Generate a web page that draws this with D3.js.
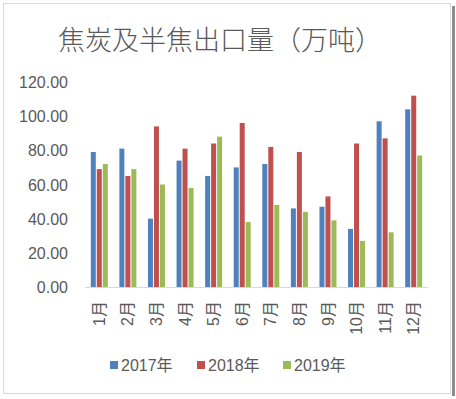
<!DOCTYPE html>
<html>
<head>
    <meta charset="utf-8">
    <script src="https://cdn.jsdelivr.net/npm/d3@7/dist/d3.min.js"></script>
    <style>
        body { margin: 0; background: #fff; }
        svg text { fill: #595959; }
        .tick text { font-family: "Liberation Sans", "Noto Sans CJK SC", sans-serif; font-size: 16px; }
    </style>
</head>
<body>
<svg id="chart" width="456" height="399"></svg>
<script>
// monthly export volumes
var months = ['1月', '2月', '3月', '4月', '5月', '6月', '7月', '8月', '9月', '10月', '11月', '12月'];
var years = ['2017年', '2018年', '2019年'];
var v2017 = [79, 81, 40, 74, 65, 70, 72, 46, 47, 34, 97, 104];
var v2018 = [69, 65, 94, 81, 84, 96, 82, 79, 53, 84, 87, 112];
var v2019 = [72, 69, 60, 58, 88, 38, 48, 44, 39, 27, 32, 77];
var yTicks = [0, 20, 40, 60, 80, 100, 120];

var colors = ['#4f81bd', '#c0504d', '#9bbb59'];
var series = [v2017, v2018, v2019];

var svg = d3.select('#chart');

// frame
svg.append('rect')
    .attr('x', 3.5).attr('y', 3.5)
    .attr('width', 447).attr('height', 390)
    .attr('fill', '#fff')
    .attr('stroke', '#d9d9d9');
svg.append('rect')
    .attr('x', 452).attr('y', 6)
    .attr('width', 3).attr('height', 390)
    .attr('fill', '#8c8c8c');

svg.append('text')
    .attr('x', 220).attr('y', 50)
    .attr('text-anchor', 'middle')
    .style('font-family', '"Noto Sans CJK SC", sans-serif')
    .style('font-size', '27px')
    .style('font-weight', 300)
    .text('焦炭及半焦出口量（万吨）');

var x = d3.scaleBand().domain(months).range([85, 428]);
var y = d3.scaleLinear().domain([0, 120]).range([287, 82]);

var yAxis = svg.append('g')
    .attr('transform', 'translate(68,0)')
    .call(d3.axisLeft(y).tickValues(yTicks).tickFormat(d3.format('.2f')).tickSize(0).tickPadding(0));
yAxis.select('.domain').remove();
yAxis.selectAll('text').attr('dy', '0.35em');

var groups = svg.append('g');
series.forEach(function (vals, si) {
    groups.selectAll('.bar' + si)
        .data(vals)
        .enter()
        .append('rect')
        .attr('x', function (d, i) { return x(months[i]) + x.bandwidth() / 2 - 8.5 + si * 6; })
        .attr('y', function (d) { return y(d); })
        .attr('width', 5)
        .attr('height', function (d) { return y(0) - y(d); })
        .attr('fill', colors[si]);
});

svg.append('line')
    .attr('x1', 85).attr('x2', 428)
    .attr('y1', y(0) + 0.5).attr('y2', y(0) + 0.5)
    .attr('stroke', '#d9d9d9');

var xAxis = svg.append('g')
    .attr('transform', 'translate(0,' + y(0) + ')')
    .call(d3.axisBottom(x).tickSize(0).tickPadding(0));
xAxis.select('.domain').remove();
xAxis.selectAll('text')
    .attr('transform', 'rotate(-90)')
    .attr('x', -14).attr('y', 0)
    .attr('dy', '0.35em')
    .attr('text-anchor', 'end');

var legend = svg.append('g');
var legendX = [110, 197, 283];
years.forEach(function (yr, i) {
    legend.append('rect')
        .attr('x', legendX[i]).attr('y', 361)
        .attr('width', 8).attr('height', 8)
        .attr('fill', colors[i]);
    legend.append('text')
        .attr('x', legendX[i] + 11).attr('y', 365)
        .attr('dy', '0.35em')
        .style('font-family', '"Liberation Sans", "Noto Sans CJK SC", sans-serif')
        .style('font-size', '16px')
        .text(yr);
});
</script>
</body>
</html>
